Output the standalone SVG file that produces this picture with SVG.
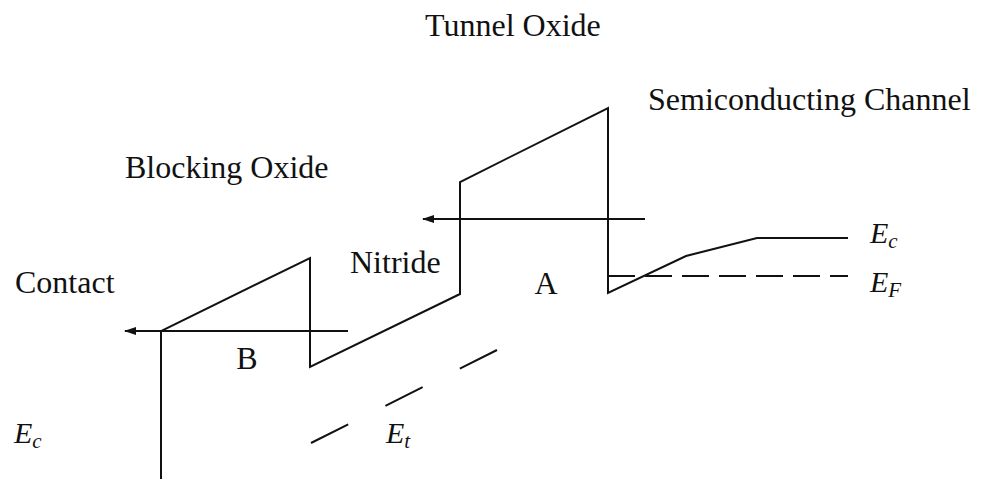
<svg xmlns="http://www.w3.org/2000/svg" width="982" height="479" viewBox="0 0 982 479">
<defs>
<style>
.ln{fill:none;stroke:#111;stroke-width:2;stroke-linejoin:miter}
.dash{fill:none;stroke:#111;stroke-width:2}
.lbl{font-family:"Liberation Serif","Times New Roman",serif;font-size:32px;fill:#111}
.m{font-family:"Liberation Serif","Times New Roman",serif;font-style:italic;font-size:30px;fill:#111}
.sub{font-size:21px}
</style>
<marker id="ah" viewBox="0 0 12 8" refX="11" refY="4" markerWidth="12" markerHeight="8" markerUnits="userSpaceOnUse" orient="auto">
<path d="M0,0 L12,4 L0,8 Z" fill="#111"/>
</marker>
</defs>
<rect width="982" height="479" fill="#fff"/>
<g id="band">
<path class="ln" d="M161,479 L161,331 L310,258 L310,367 L460,294 L460,182 L608,108 L608,293 L686,256 L757,238 L848,238"/>
</g>
<g id="fermi">
<line class="dash" x1="608" y1="276" x2="848" y2="276" stroke-dasharray="27 10"/>
</g>
<g id="trap">
<line class="dash" x1="311" y1="443" x2="497" y2="350" stroke-dasharray="41.6 41.6"/>
</g>
<g id="connectors">
<line class="ln" x1="348" y1="331" x2="125" y2="331" marker-end="url(#ah)"/>
<line class="ln" x1="645" y1="219" x2="423" y2="219" marker-end="url(#ah)"/>
</g>
<g id="labels">
<text class="lbl" x="425" y="36">Tunnel Oxide</text>
<text class="lbl" x="648" y="110">Semiconducting Channel</text>
<text class="lbl" x="125" y="178">Blocking Oxide</text>
<text class="lbl" x="15" y="293">Contact</text>
<text class="lbl" x="350" y="273">Nitride</text>
<text class="lbl" x="546" y="294" text-anchor="middle">A</text>
<text class="lbl" x="247" y="369" text-anchor="middle">B</text>
<text class="m" x="870" y="243">E<tspan class="sub" dy="5">c</tspan></text>
<text class="m" x="870" y="292">E<tspan class="sub" dy="5">F</tspan></text>
<text class="m" x="14" y="443">E<tspan class="sub" dy="5">c</tspan></text>
<text class="m" x="386" y="443">E<tspan class="sub" dy="5">t</tspan></text>
</g>
</svg>
